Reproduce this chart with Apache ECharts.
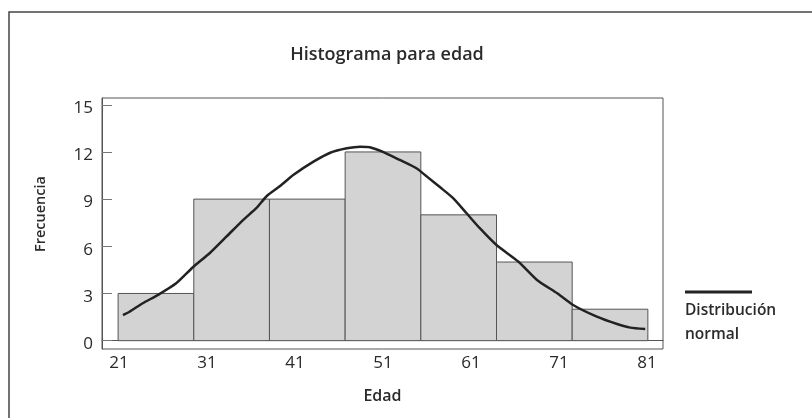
<!DOCTYPE html>
<html>
<head>
<meta charset="utf-8">
<script src="https://cdn.jsdelivr.net/npm/echarts@6/dist/echarts.min.js"></script>
<style>html,body{margin:0;padding:0;background:#fff;}#c{width:812px;height:418px;}</style>
</head>
<body>
<div id="c"></div>
<script>
// ---- data ----
var binEdges = [20.9, 29.5, 38.1, 46.7, 55.3, 63.9, 72.5, 81.1];
var counts = [3, 9, 9, 12, 8, 5, 2];
var xTicks = [21, 31, 41, 51, 61, 71, 81];
var yTicks = [0, 3, 6, 9, 12, 15];
var curveX = [21.45, 22.2, 23.7, 25.4, 27.5, 29.4, 31.3, 33.2, 35.1, 36.6, 37.8, 39.3, 40.8, 43.1, 45.0, 46.9, 48.4, 49.5, 51.0, 52.9, 54.8, 56.0, 57.5, 59.0, 60.5, 62.0, 63.9, 66.4, 68.5, 70.8, 72.6, 75.3, 77.6, 79.1, 80.8];
var curveY = [1.63, 1.84, 2.38, 2.9, 3.65, 4.67, 5.56, 6.61, 7.67, 8.42, 9.2, 9.83, 10.53, 11.38, 11.95, 12.23, 12.33, 12.3, 12.0, 11.49, 10.96, 10.43, 9.75, 9.05, 8.1, 7.15, 6.08, 5.02, 3.86, 3.01, 2.27, 1.53, 1.06, 0.83, 0.74];

var barData = counts.map(function (c, i) { return [binEdges[i], binEdges[i + 1], c]; });
var curveData = curveX.map(function (x, i) { return [x, curveY[i]]; });

var FONT = '"Open Sans", "DejaVu Sans", sans-serif';
var chart = echarts.init(document.getElementById('c'), null, { renderer: 'canvas' });
chart.setOption({
  animation: false,
  backgroundColor: '#fff',
  title: {
    text: 'Histograma para edad',
    left: 382,
    top: 41,
    textAlign: 'center',
    textStyle: { fontFamily: FONT, fontSize: 18, fontWeight: 600, color: '#2a2a2a' }
  },
  grid: {
    left: 102, top: 98, right: 149, bottom: 69,
    show: true, borderColor: '#555', borderWidth: 1, backgroundColor: 'transparent'
  },
  xAxis: {
    type: 'value', min: 19.07, max: 82.82,
    splitLine: { show: false },
    axisLine: { show: true, lineStyle: { color: '#555', width: 1 } },
    axisTick: { show: true, inside: true, length: 6, customValues: xTicks, lineStyle: { color: '#777' } },
    axisLabel: { customValues: xTicks, margin: 6, fontFamily: FONT, fontSize: 17, color: '#2a2a2a' },
    name: 'Edad', nameLocation: 'middle', nameGap: 39,
    nameTextStyle: { fontFamily: FONT, fontSize: 16, fontWeight: 600, color: '#2a2a2a' }
  },
  yAxis: {
    type: 'value', min: -0.53, max: 15.43,
    splitLine: { show: false },
    axisLine: { show: true, lineStyle: { color: '#555', width: 1 } },
    axisTick: { show: true, inside: true, length: 10, customValues: yTicks, lineStyle: { color: '#777' } },
    axisLabel: { customValues: yTicks, margin: 9, verticalAlign: 'top', lineHeight: 7, fontFamily: FONT, fontSize: 17, color: '#2a2a2a' }
  },
  graphic: [
    { type: 'rect', shape: { x: 9, y: 12, width: 820, height: 430 }, style: { fill: 'none', stroke: '#444', lineWidth: 1.5 }, silent: true },
    { type: 'text', x: 41, y: 214, rotation: Math.PI / 2, style: { text: 'Frecuencia', fontFamily: FONT, fontSize: 14.5, fontWeight: 600, fill: '#2a2a2a', align: 'center', verticalAlign: 'middle' } },
    { type: 'line', shape: { x1: 685, y1: 292, x2: 752, y2: 292 }, style: { stroke: '#222', lineWidth: 3 } },
    { type: 'text', x: 685, y: 311, style: { text: 'Distribución', fontFamily: FONT, fontSize: 15.5, fontWeight: 600, fill: '#2a2a2a', align: 'left', verticalAlign: 'middle' } },
    { type: 'text', x: 685, y: 335, style: { text: 'normal', fontFamily: FONT, fontSize: 15.5, fontWeight: 600, fill: '#2a2a2a', align: 'left', verticalAlign: 'middle' } }
  ],
  series: [
    {
      type: 'custom',
      data: barData,
      encode: { x: [0, 1], y: 2 },
      renderItem: function (params, api) {
        var p0 = api.coord([api.value(0), api.value(2)]);
        var p1 = api.coord([api.value(1), 0]);
        return {
          type: 'rect',
          shape: { x: p0[0], y: p0[1], width: p1[0] - p0[0], height: p1[1] - p0[1] },
          style: { fill: '#d3d3d3', stroke: '#555', lineWidth: 1 }
        };
      },
      z: 2
    },
    {
      type: 'line',
      data: curveData,
      smooth: 0.2,
      symbol: 'none',
      lineStyle: { color: '#222', width: 2.5 },
      z: 3
    }
  ]
});
</script>
</body>
</html>
